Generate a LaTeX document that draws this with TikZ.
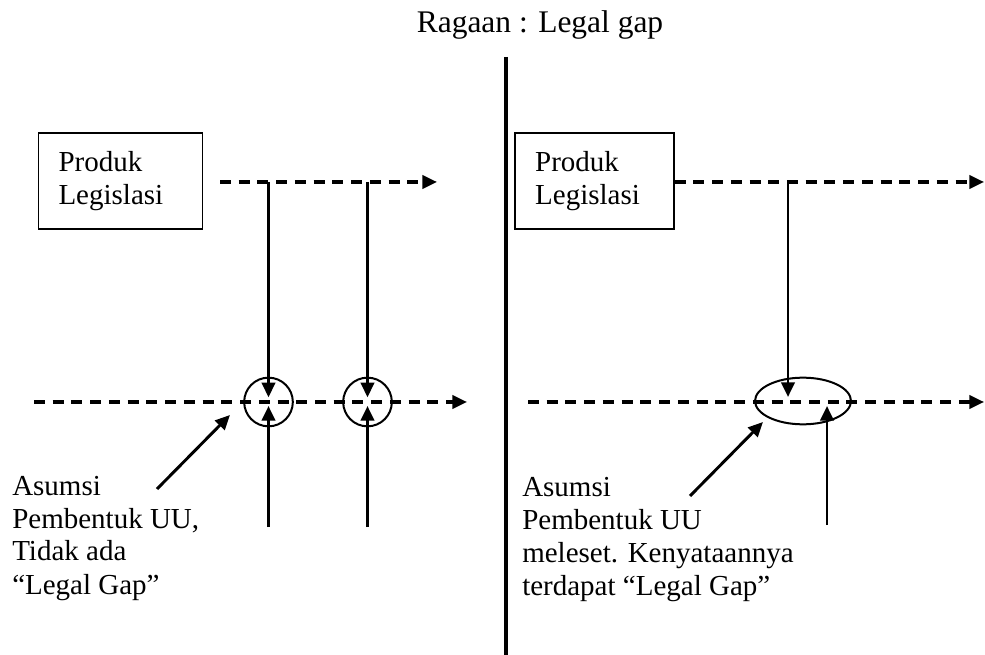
\documentclass[tikz,border=0pt]{standalone}
\usepackage{fontspec}
\setmainfont{Liberation Serif}
\usetikzlibrary{arrows.meta,shapes.geometric}

\begin{document}
\begin{tikzpicture}[x=0.75pt,y=-0.75pt,
  every node/.style={inner sep=0pt,font=\fontsize{21.75}{24.75}\selectfont},
  prodbox/.style={draw,line width=1.1pt,align=left,inner xsep=15pt,minimum height=72pt},
  dashline/.style={line width=2.3pt,dash pattern=on 8.25pt off 5.8pt,-{Triangle[length=11pt,width=10pt]}},
  arrowline/.style={line width=2.2pt,-{Triangle[length=11pt,width=10pt]}},
  note/.style={align=left,anchor=base west}]
\useasboundingbox (0,0) rectangle (985,655);
\node[anchor=base,font=\fontsize{23.6}{26}\selectfont] (title) at (540,33) {Ragaan : Legal gap};
\coordinate (divtop) at (506,57);
\coordinate (divbot) at (506,655);
\draw [line width=3pt] (divtop) -- (divbot);
\node[prodbox,text width=93pt] (boxL) at (120.5,181) {Produk\\Legislasi};
\node[prodbox,text width=89pt] (boxR) at (594.5,181) {Produk\\Legislasi};
\coordinate (topL1) at (220,182);
\coordinate (topL2) at (437,182);
\coordinate (midL1) at (34,402);
\coordinate (midL2) at (467,402);
\coordinate (topR2) at (984,182);
\coordinate (midR1) at (528,402);
\coordinate (midR2) at (984,402);
\draw [dashline] (topL1) -- (topL2);
\draw [dashline] (midL1) -- (midL2);
\draw [dashline] (boxR.east |- topR2) -- (topR2);
\draw [dashline] (midR1) -- (midR2);
\node[draw,circle,line width=1.5pt,minimum size=36.5pt] (ringA) at (268.5,402) {};
\node[draw,circle,line width=1.5pt,minimum size=36.5pt] (ringB) at (367.5,402) {};
\node[draw,ellipse,line width=1.5pt,minimum width=72pt,minimum height=35pt] (gap) at (803,401) {};
\coordinate (dropA) at (268.5,182);
\coordinate (dropB) at (367.5,182);
\coordinate (riseA) at (268.5,527);
\coordinate (riseB) at (367.5,527);
\coordinate (dropR) at (788,182);
\coordinate (riseR) at (827,525);
\draw [arrowline] (dropA) -- ([yshift=3.5pt]ringA.center);
\draw [arrowline] (riseA) -- ([yshift=-3pt]ringA.center);
\draw [arrowline] (dropB) -- ([yshift=3.5pt]ringB.center);
\draw [arrowline] (riseB) -- ([yshift=-3pt]ringB.center);
\draw [arrowline] (dropR) -- (788,397);
\draw [arrowline] (riseR) -- (827,406);
\node[note] (noteL) at (12,594) {Asumsi\\Pembentuk UU,\\Tidak ada\\``Legal Gap''};
\node[note] (noteR) at (522,595) {Asumsi\\Pembentuk UU\\meleset. Kenyataannya\\terdapat ``Legal Gap''};
\coordinate (pointL) at (157,489);
\coordinate (pointR) at (690,496);
\draw [arrowline] (pointL) -- (230,415);
\draw [arrowline] (pointR) -- (763,422);
\end{tikzpicture}
\end{document}
